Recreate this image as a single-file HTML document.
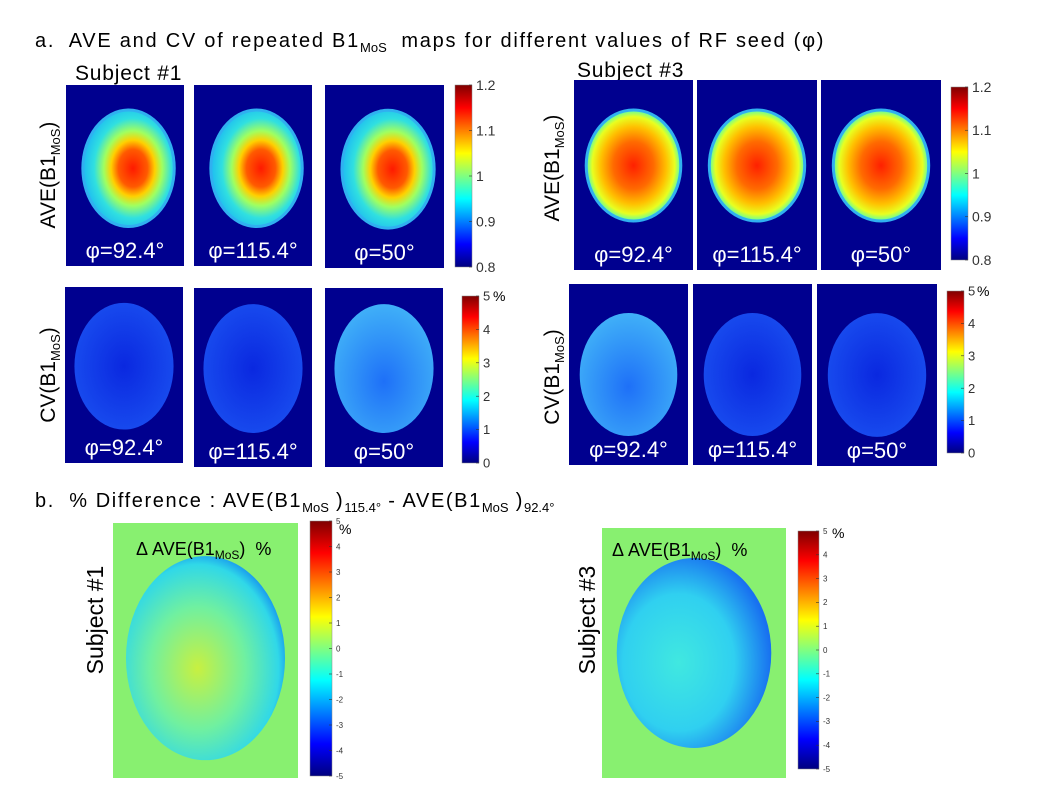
<!DOCTYPE html>
<html><head><meta charset="utf-8"><style>
body{margin:0;background:#fff;}
svg{display:block;font-family:"Liberation Sans",sans-serif;}
</style></head><body>
<svg id="fig" width="1058" height="794" viewBox="0 0 1058 794">
<defs>
<linearGradient id="jet" x1="0" y1="1" x2="0" y2="0">
<stop offset="0" stop-color="#00007f"/><stop offset="0.125" stop-color="#0000ff"/><stop offset="0.375" stop-color="#00ffff"/><stop offset="0.5" stop-color="#80ff80"/><stop offset="0.625" stop-color="#ffff00"/><stop offset="0.875" stop-color="#ff0000"/><stop offset="1" stop-color="#7f0000"/>
</linearGradient>
<radialGradient id="ave1" cx="0.55" cy="0.5" r="0.55">
<stop offset="0" stop-color="#ff1a00"/><stop offset="0.3" stop-color="#ff5a00"/><stop offset="0.45" stop-color="#ffd000"/><stop offset="0.6" stop-color="#a0ff60"/><stop offset="0.8" stop-color="#30e0e0"/><stop offset="1" stop-color="#20c0f0"/>
</radialGradient>
<radialGradient id="ave3" cx="0.5" cy="0.5" r="0.55">
<stop offset="0" stop-color="#ff2000"/><stop offset="0.4" stop-color="#ff6a00"/><stop offset="0.65" stop-color="#ffc000"/><stop offset="0.82" stop-color="#e8ff20"/><stop offset="0.93" stop-color="#60ffa0"/><stop offset="1" stop-color="#20c0f0"/>
</radialGradient>
<radialGradient id="cvlow" cx="0.5" cy="0.5" r="0.6">
<stop offset="0" stop-color="#0a28e0"/><stop offset="1" stop-color="#1a50f0"/>
</radialGradient>
<radialGradient id="cvhigh" cx="0.5" cy="0.6" r="0.6">
<stop offset="0" stop-color="#1e70f8"/><stop offset="1" stop-color="#40b0f8"/>
</radialGradient>
<radialGradient id="diff1" cx="0.45" cy="0.55" r="0.6">
<stop offset="0" stop-color="#c8f040"/><stop offset="0.5" stop-color="#70f0a0"/><stop offset="0.85" stop-color="#30d8e8"/><stop offset="1" stop-color="#1080f0"/>
</radialGradient>
<radialGradient id="diff3" cx="0.4" cy="0.55" r="0.6">
<stop offset="0" stop-color="#40e8e0"/><stop offset="0.6" stop-color="#30d0f0"/><stop offset="1" stop-color="#1870f0"/>
</radialGradient>
</defs>
<g id="layer"></g>
</svg>
<script>
// colorbar tick arrays
const aveTicks = ["1.2","1.1","1","0.9","0.8"];
const cvTicks = ["5","4","3","2","1","0"];
const diffTicks = ["5","4","3","2","1","0","-1","-2","-3","-4","-5"];
const phiLabels = ["φ=92.4°","φ=115.4°","φ=50°"];

const NS="http://www.w3.org/2000/svg";
const L=document.getElementById('layer');
function mk(tag,attrs,parent){const e=document.createElementNS(NS,tag);for(const k in attrs)e.setAttribute(k,attrs[k]);(parent||L).appendChild(e);return e;}
function txt(x,y,s,size,fill,extra){const t=mk('text',Object.assign({x:x,y:y,'font-size':size,fill:fill||'#000'},extra||{}));t.innerHTML=s;return t;}

// Title texts
let t=txt(35,47,'a.&#160; AVE and CV of repeated B1<tspan font-size="13" dy="5" letter-spacing="0">MoS</tspan><tspan dy="-5"> &#160;maps for different values of RF seed (φ)</tspan>',20,'#000',{'letter-spacing':'1.75'});


t=txt(35,507,'b.&#160; % Difference : AVE(B1<tspan font-size="13" dy="5" letter-spacing="0">MoS</tspan><tspan dy="-5"> )</tspan><tspan font-size="13" dy="5" letter-spacing="0">115.4°</tspan><tspan dy="-5"> - AVE(B1</tspan><tspan font-size="13" dy="5" letter-spacing="0">MoS</tspan><tspan dy="-5"> )</tspan><tspan font-size="13" dy="5" letter-spacing="0">92.4°</tspan>',20,'#000',{'letter-spacing':'1.6'});


t=txt(75,80,'Subject #1',21,'#000',{'letter-spacing':'0.8'});


t=txt(577,77,'Subject #3',21,'#000',{'letter-spacing':'0.8'});



function rowLabel(cx,cy,s,size){const t=txt(0,0,'',size||21,'#000',{transform:`translate(${cx},${cy}) rotate(-90)`,'text-anchor':'middle'});t.innerHTML=s;return t;}
t=rowLabel(55,175,'AVE(B1<tspan font-size="13" dy="5">MoS</tspan><tspan dy="-5">)</tspan>');


t=rowLabel(55,375,'CV(B1<tspan font-size="13" dy="5">MoS</tspan><tspan dy="-5">)</tspan>');


t=rowLabel(559,168,'AVE(B1<tspan font-size="13" dy="5">MoS</tspan><tspan dy="-5">)</tspan>');


t=rowLabel(559,377,'CV(B1<tspan font-size="13" dy="5">MoS</tspan><tspan dy="-5">)</tspan>');


t=rowLabel(103,620,'Subject #1',23);


t=rowLabel(595,620,'Subject #3',23);



function panel(x,y,w,h,bg,fill,head,label,name,edge){
  const g=mk('g',{});
  
  
  mk('rect',{x:x,y:y,width:w,height:h,fill:bg},g);
  const hx=x+head[0]*w, hy=y+head[1]*h, rx=head[2]*w, ry=head[3]*h;
  if(edge) mk('ellipse',{cx:hx,cy:hy,rx:rx,ry:ry,fill:edge},g);
  mk('ellipse',{cx:hx,cy:hy,rx:rx-(edge?3:0),ry:ry-(edge?3:0),fill:fill},g);
  if(label){const l=txt(x+w/2,y+h-8,label,22,'#fff',{'text-anchor':'middle'});g.appendChild(l);}
  return g;
}
function colorbar(x,y,w,h,ticks,name,size,pct){
  const g=mk('g',{});
  
  
  mk('rect',{x:x,y:y,width:w,height:h,fill:'url(#jet)',stroke:'#888','stroke-width':0.5},g);
  ticks.forEach((s,i)=>{const yy=y+i*h/(ticks.length-1);
    mk('line',{x1:x+w-3,x2:x+w,y1:yy,y2:yy,stroke:'#333','stroke-width':0.6},g);
    const l=txt(x+w+4,yy+size*0.35,s,size,'#333');g.appendChild(l);});
  if(pct){const p=txt(pct[0],pct[1],'%',pct[2],'#000');g.appendChild(p);}
}

// Subject 1 AVE row
const s1ave=[[66,85,118,181],[194,85,118,181],[325,85,119,183]];
s1ave.forEach((p,i)=>panel(p[0],p[1],p[2],p[3],'#00008f','url(#ave1)',[0.53,0.46,0.4,0.33],phiLabels[i],'s1-ave-map-'+(i+1),'#30b0f0'));
colorbar(455,85,17,182,aveTicks,'s1-ave-colorbar',14);
// Subject 1 CV row
const s1cv=[[65,287,118,176],[194,288,118,179],[325,288,118,179]];
const s1cvFill=['url(#cvlow)','url(#cvlow)','url(#cvhigh)'];
s1cv.forEach((p,i)=>panel(p[0],p[1],p[2],p[3],'#00008f',s1cvFill[i],[0.5,0.45,0.42,0.36],phiLabels[i],'s1-cv-map-'+(i+1)));
colorbar(462,296,17,167,cvTicks,'s1-cv-colorbar',13,[493,301,14]);

// Subject 3 AVE row
const s3ave=[[574,80,119,190],[697,80,120,190],[821,80,120,190]];
s3ave.forEach((p,i)=>panel(p[0],p[1],p[2],p[3],'#00008f','url(#ave3)',[0.5,0.45,0.41,0.3],phiLabels[i],'s3-ave-map-'+(i+1),'#30b0f0'));
colorbar(951,87,17,173,aveTicks,'s3-ave-colorbar',14);
// Subject 3 CV row
const s3cv=[[569,284,119,181],[693,284,119,181],[817,284,120,182]];
const s3cvFill=['url(#cvhigh)','url(#cvlow)','url(#cvlow)'];
s3cv.forEach((p,i)=>panel(p[0],p[1],p[2],p[3],'#00008f',s3cvFill[i],[0.5,0.5,0.41,0.34],phiLabels[i],'s3-cv-map-'+(i+1)));
colorbar(947,291,17,162,cvTicks,'s3-cv-colorbar',13,[977,296,14]);

// Difference maps
panel(113,523,185,255,'#88f070','url(#diff1)',[0.5,0.53,0.43,0.4],null,'s1-diff-map');
panel(602,528,184,250,'#88f070','url(#diff3)',[0.5,0.5,0.42,0.38],null,'s3-diff-map');
t=txt(136,555,'Δ AVE(B1<tspan font-size="12" dy="4">MoS</tspan><tspan dy="-4">)&#160; %</tspan>',18);


t=txt(612,556,'Δ AVE(B1<tspan font-size="12" dy="4">MoS</tspan><tspan dy="-4">)&#160; %</tspan>',18);


colorbar(310,521,22,255,diffTicks,'s1-diff-colorbar',8,[339,534,14]);
colorbar(798,531,21,238,diffTicks,'s3-diff-colorbar',8,[832,538,14]);
</script>
</body></html>
